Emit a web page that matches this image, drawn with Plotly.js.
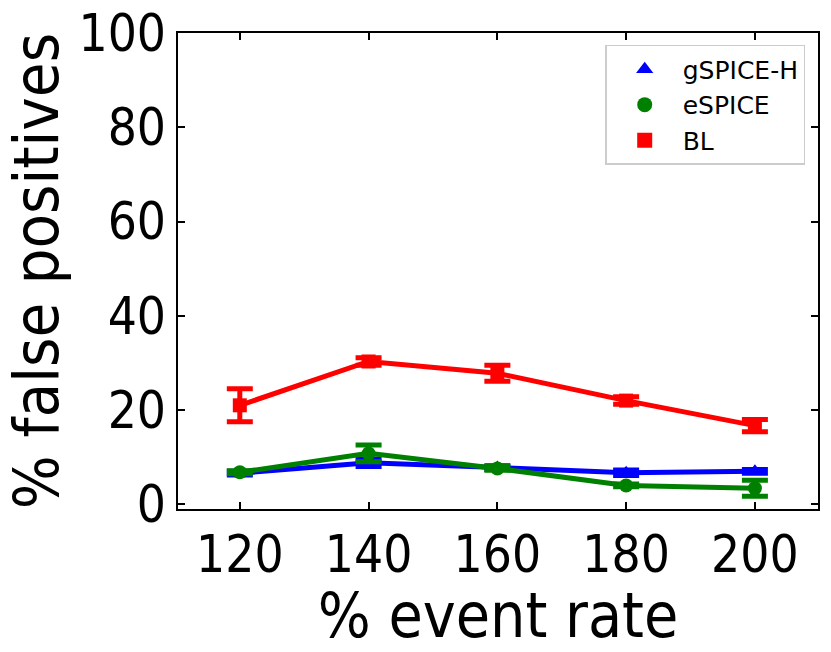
<!DOCTYPE html>
<html>
<head>
<meta charset="utf-8">
<script src="https://cdn.plot.ly/plotly-3.0.1.min.js"></script>
<style>
  body { margin: 0; background: #fff; }
  #chart { width: 831px; height: 652px; }
</style>
</head>
<body>
<div id="chart"></div>
<script>
// event rate (%) on the x axis
const eventRate = [120, 140, 160, 180, 200];

// % false positives per approach, with error bar half-widths
const gspiceH = [6.6, 8.8, 7.8, 6.7, 7.0];
const gspiceHErr = [0.4, 0.8, 0.4, 0.6, 0.4];

const espice = [6.8, 10.8, 7.6, 4.0, 3.4];
const espiceErr = [0.3, 1.8, 0.4, 0.3, 1.7];

const bl = [21.0, 30.3, 27.8, 22.0, 16.7];
const blErr = [3.5, 0.8, 1.7, 0.8, 1.3];

const names = ["gSPICE-H", "eSPICE", "BL"];
const colors = ["blue", "green", "red"];
const symbols = ["triangle-up", "circle", "square"];

const series = [
    { y: gspiceH, err: gspiceHErr },
    { y: espice, err: espiceErr },
    { y: bl, err: blErr },
];

const traces = [];

series.forEach((s, i) => {
    traces.push({
        x: eventRate,
        y: s.y,
        type: "scatter",
        mode: "lines+markers",
        showlegend: false,
        line: { color: colors[i], width: 5 },
        marker: { color: colors[i], symbol: symbols[i], size: 14 },
        error_y: { type: "data", array: s.err, visible: true,
                   color: colors[i], thickness: 5, width: 13 },
    });
});

// legend shows markers only, like the original
series.forEach((s, i) => {
    traces.push({
        x: [null],
        y: [null],
        type: "scatter",
        mode: "markers",
        name: names[i],
        marker: { color: colors[i], symbol: symbols[i], size: 15 },
    });
});

const axisCommon = {
    showgrid: false,
    zeroline: false,
    showline: true,
    linecolor: "black",
    linewidth: 1.5,
    mirror: "ticks",
    ticks: "inside",
    ticklen: 7,
    tickwidth: 1.5,
    tickcolor: "black",
    tickfont: { size: 51, color: "black" },
};

const layout = {
    width: 831,
    height: 652,
    margin: { l: 178, r: 13, t: 33, b: 143 },
    paper_bgcolor: "white",
    plot_bgcolor: "white",
    font: { family: "DejaVu Sans Condensed, DejaVu Sans", color: "black" },
    xaxis: Object.assign({}, axisCommon, {
        range: [110.4, 209.8],
        tickvals: eventRate,
        title: { text: "% event rate", font: { size: 62 }, standoff: 2 },
    }),
    yaxis: Object.assign({}, axisCommon, {
        range: [-1, 100],
        tickvals: [0, 20, 40, 60, 80, 100],
        title: { text: "% false positives", font: { size: 63 }, standoff: 4 },
    }),
    legend: {
        x: 0.98,
        y: 0.975,
        xanchor: "right",
        yanchor: "top",
        bordercolor: "#cccccc",
        borderwidth: 1.5,
        bgcolor: "white",
        font: { family: "DejaVu Sans", size: 25 },
        itemwidth: 66,
    },
};

Plotly.newPlot("chart", traces, layout, { displayModeBar: false });
</script>
</body>
</html>
